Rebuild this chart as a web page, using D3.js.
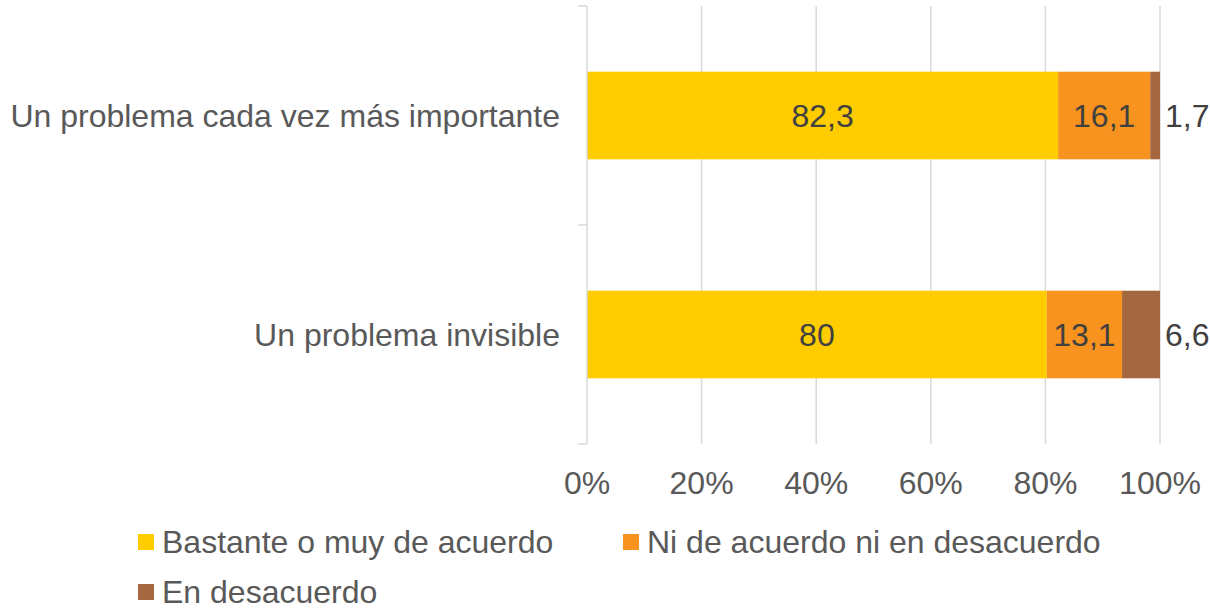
<!DOCTYPE html>
<html>
<head>
<meta charset="utf-8">
<script src="https://cdn.jsdelivr.net/npm/d3@7"></script>
<style>
  html, body { margin: 0; padding: 0; background: #ffffff; }
  svg { display: block; font-family: "Liberation Sans", Arial, sans-serif; }
</style>
</head>
<body>
<svg id="chart" width="1210" height="610"></svg>
<script>
const categories = ["Un problema cada vez más importante", "Un problema invisible"];
const seriesNames = ["Bastante o muy de acuerdo", "Ni de acuerdo ni en desacuerdo", "En desacuerdo"];
const seriesBastante = [82.3, 80];
const seriesNi = [16.1, 13.1];
const seriesDesacuerdo = [1.7, 6.6];
const labelsBastante = ["82,3", "80"];
const labelsNi = ["16,1", "13,1"];
const labelsDesacuerdo = ["1,7", "6,6"];
const tickValues = [0, 0.2, 0.4, 0.6, 0.8, 1.0];
const tickLabels = ["0%", "20%", "40%", "60%", "80%", "100%"];
const colors = ["#FFCC00", "#F7931E", "#A5673F"];

const seriesValues = [seriesBastante, seriesNi, seriesDesacuerdo];
const seriesLabels = [labelsBastante, labelsNi, labelsDesacuerdo];

const svg = d3.select("#chart");
const x = d3.scaleLinear().domain([0, 1]).range([587, 1160]);
const y = d3.scaleBand().domain(categories).range([6, 444]).paddingInner(0.6).paddingOuter(0.3);

// gridlines
svg.append("g").selectAll("line").data(tickValues.slice(1)).join("line")
  .attr("x1", d => x(d)).attr("x2", d => x(d))
  .attr("y1", 6).attr("y2", 444)
  .attr("stroke", "#d9d9d9").attr("stroke-width", 1.5);

// build stacked data (normalized to 100%)
const rows = categories.map((c, i) => {
  const vals = seriesValues.map(s => s[i]);
  const total = d3.sum(vals);
  let acc = 0;
  return vals.map((v, k) => {
    const seg = { cat: c, k, x0: acc / total, x1: (acc + v) / total, label: seriesLabels[k][i] };
    acc += v;
    return seg;
  });
});
const segs = rows.flat();

svg.append("g").selectAll("rect").data(segs).join("rect")
  .attr("x", d => x(d.x0))
  .attr("width", d => x(d.x1) - x(d.x0))
  .attr("y", d => y(d.cat))
  .attr("height", y.bandwidth())
  .attr("fill", d => colors[d.k]);

// data labels
svg.append("g").selectAll("text").data(segs).join("text")
  .attr("x", d => d.k === 2 ? x(1) + 5 : x((d.x0 + d.x1) / 2))
  .attr("y", d => y(d.cat) + y.bandwidth() / 2)
  .attr("dy", "0.35em")
  .attr("text-anchor", d => d.k === 2 ? "start" : "middle")
  .attr("font-size", 32)
  .attr("fill", "#404040")
  .text(d => d.label);

// left axis
const gy = svg.append("g").attr("transform", `translate(${x(0)},0)`);
gy.append("line").attr("x1", 0).attr("x2", 0).attr("y1", 6).attr("y2", 444)
  .attr("stroke", "#d9d9d9").attr("stroke-width", 1.5);
const edges = [6, ...categories.slice(1).map(c => y(c) - y.step() * y.paddingInner() / 2), 444];
gy.selectAll("line.t").data(edges).join("line").attr("class", "t")
  .attr("x1", -9).attr("x2", 0).attr("y1", d => d).attr("y2", d => d)
  .attr("stroke", "#d9d9d9").attr("stroke-width", 1.5);
gy.selectAll("text").data(categories).join("text")
  .attr("x", -27)
  .attr("y", d => y(d) + y.bandwidth() / 2)
  .attr("dy", "0.35em")
  .attr("text-anchor", "end")
  .attr("font-size", 32)
  .attr("fill", "#595959")
  .text(d => d);

// x axis tick labels
svg.append("g").selectAll("text").data(tickValues).join("text")
  .attr("x", d => x(d))
  .attr("y", 494)
  .attr("text-anchor", "middle")
  .attr("font-size", 32)
  .attr("fill", "#595959")
  .text((d, i) => tickLabels[i]);

// legend
const legendPos = [[138, 542], [623, 542], [138, 592]];
const lg = svg.append("g").selectAll("g").data(seriesNames).join("g")
  .attr("transform", (d, i) => `translate(${legendPos[i][0]},${legendPos[i][1]})`);
lg.append("rect").attr("x", 0).attr("y", -8).attr("width", 16).attr("height", 16)
  .attr("fill", (d, i) => colors[i]);
lg.append("text").attr("x", 24).attr("y", 0).attr("dy", "0.35em")
  .attr("font-size", 32).attr("fill", "#595959").text(d => d);
</script>
</body>
</html>
